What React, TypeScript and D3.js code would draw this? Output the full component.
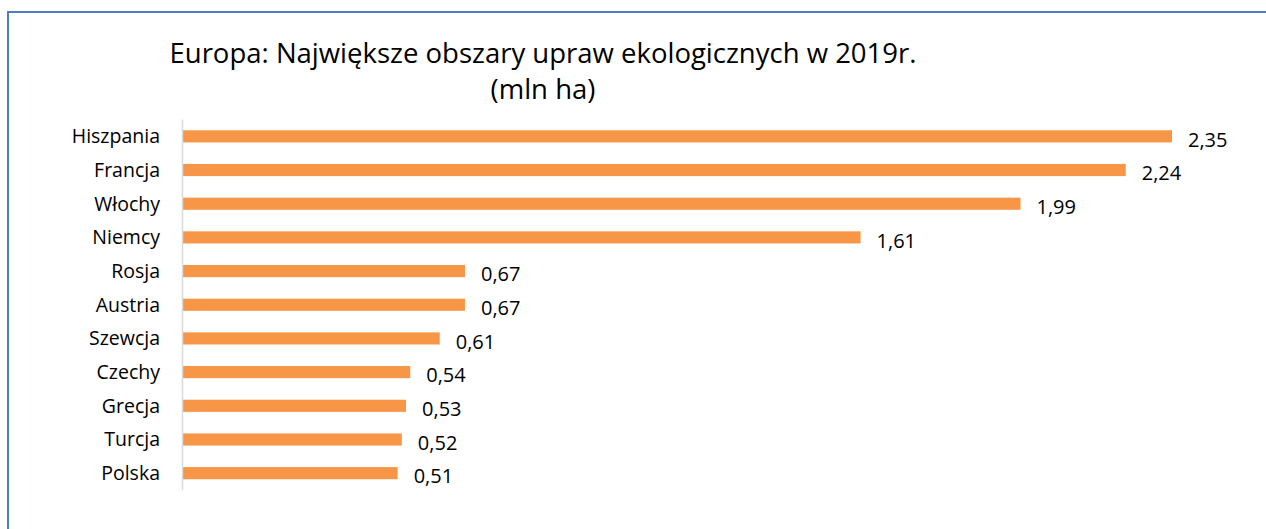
import React from "react";
import * as d3 from "d3";

const categories = ["Hiszpania", "Francja", "Włochy", "Niemcy", "Rosja", "Austria", "Szewcja", "Czechy", "Grecja", "Turcja", "Polska"];
const values = [2.35, 2.24, 1.99, 1.61, 0.67, 0.67, 0.61, 0.54, 0.53, 0.52, 0.51];
const titleLines = ["Europa: Największe obszary upraw ekologicznych w 2019r.", "(mln ha)"];

const W = 1266;
const H = 529;
const FONT = "'Open Sans', 'Noto Sans', sans-serif";

export default function App() {
  const x = d3.scaleLinear().domain([0, 2.35]).range([183, 1172]);
  const y = d3.scaleBand<string>().domain(categories).range([119.5, 490]).paddingInner(0.64).paddingOuter(0.32);
  const fmt = (v: number) => v.toFixed(2).replace(".", ",");
  return (
    <svg width={W} height={H} style={{ position: "absolute", left: 0, top: 0, background: "#fff" }}>
      <rect x={8} y={12} width={W} height={H} fill="#fff" stroke="#4a7ebf" strokeWidth={2} />
      <text x={543} y={63} textAnchor="middle" fontFamily={FONT} fontSize={27.5} fill="#000">{titleLines[0]}</text>
      <text x={543} y={99} textAnchor="middle" fontFamily={FONT} fontSize={27.5} fill="#000">{titleLines[1]}</text>
      {categories.map((c, i) => (
        <g key={c}>
          <rect x={x(0)} y={y(c)} width={x(values[i]) - x(0)} height={y.bandwidth()} fill="#f79646" />
          <text x={160} y={(y(c) as number) + y.bandwidth() / 2} dy="0.36em" textAnchor="end" fontFamily={FONT} fontSize={19.5} fill="#000">{c}</text>
          <text x={x(values[i]) + 16} y={(y(c) as number) + y.bandwidth() / 2 + 3} dy="0.36em" textAnchor="start" fontFamily={FONT} fontSize={20} fill="#000">{fmt(values[i])}</text>
        </g>
      ))}
      <line x1={182.5} x2={182.5} y1={119.5} y2={490} stroke="#d9d9d9" strokeWidth={1.5} />
    </svg>
  );
}
